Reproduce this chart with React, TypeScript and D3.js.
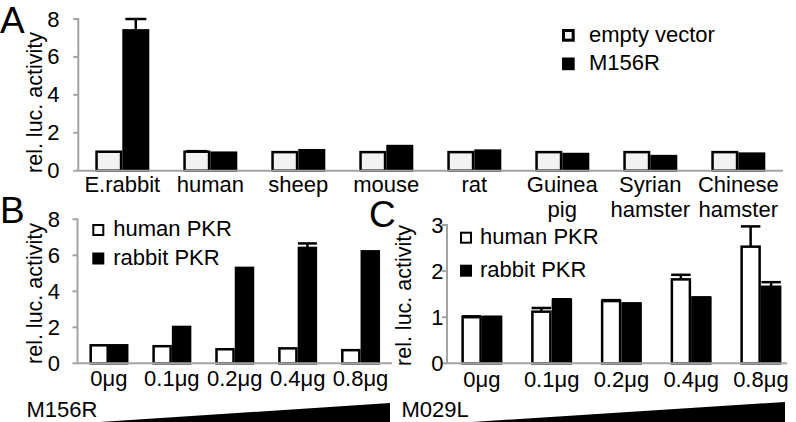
import React from "react";
import * as d3 from "d3";

// ---------- Data ----------
const speciesLabels: string[][] = [
  ["E.rabbit"], ["human"], ["sheep"], ["mouse"], ["rat"],
  ["Guinea", "pig"], ["Syrian", "hamster"], ["Chinese", "hamster"],
];
const emptyVector = [1.0, 1.0, 0.98, 0.98, 0.98, 0.98, 0.98, 0.98];
const emptyVectorErr = [0, 0.03, 0, 0, 0, 0, 0, 0];
const m156r = [7.4, 0.95, 1.08, 1.3, 1.06, 0.88, 0.77, 0.9];
const m156rErr = [0.6, 0, 0, 0, 0, 0, 0, 0];
const aTicks = [0, 2, 4, 6, 8];

const doses = ["0μg", "0.1μg", "0.2μg", "0.4μg", "0.8μg"];
const bHuman = [1.0, 0.95, 0.78, 0.83, 0.73];
const bHumanErr = [0, 0, 0, 0, 0];
const bRabbit = [1.0, 2.02, 5.3, 6.41, 6.22];
const bRabbitErr = [0, 0, 0, 0.25, 0];
const bTicks = [0, 2, 4, 6, 8];

const cHuman = [1.0, 1.12, 1.35, 1.82, 2.53];
const cHumanErr = [0.02, 0.08, 0.02, 0.1, 0.44];
const cRabbit = [1.0, 1.37, 1.29, 1.42, 1.66];
const cRabbitErr = [0.01, 0.02, 0.01, 0.01, 0.1];
const cTicks = [0, 1, 2, 3];

const legendA = ["empty vector", "M156R"];
const legendBC = ["human PKR", "rabbit PKR"];

const FONT = "'Liberation Sans', Arial, Helvetica, sans-serif";
const AXIS = "#a3a3a3";

type PanelProps = {
  labels: string[][];
  s1: number[]; e1: number[];
  s2: number[]; e2: number[];
  ticks: number[];
  x0: number; band: number; xEnd: number;
  yZero: number; yTop: number; yMax: number;
  bw: number; cap: number;
  fill1: string;
  tickRight: number;
  labelBase: number;
  titleX: number; titleY: number;
};

function Panel(p: PanelProps) {
  const n = p.labels.length;
  const x = d3.scaleBand<number>().domain(d3.range(n)).range([p.x0, p.x0 + n * p.band]).padding(0);
  const y = d3.scaleLinear().domain([0, p.yMax]).range([p.yZero, p.yTop]);
  const sw = 2.5;
  const center = (i: number) => (x(i) as number) + x.bandwidth() / 2;
  const bar = (i: number, v: number, e: number, left: boolean, fill: string) => {
    const cx = center(i);
    const bx = left ? cx - p.bw + sw / 2 : cx + sw / 2;
    const w = p.bw - sw;
    const top = y(v);
    const ex = left ? cx - p.bw / 2 : cx + p.bw / 2;
    return (
      <g key={(left ? "l" : "r") + i}>
        {e > 0 && (
          <g stroke="#000" strokeWidth={2.5}>
            <line x1={ex} x2={ex} y1={top} y2={y(v + e)} />
            <line x1={ex - p.cap / 2} x2={ex + p.cap / 2} y1={y(v + e)} y2={y(v + e)} />
          </g>
        )}
        <rect x={bx} y={top} width={w} height={p.yZero - top} fill={fill} stroke="#000" strokeWidth={sw} />
      </g>
    );
  };
  return (
    <g>
      {/* y axis */}
      <line x1={p.x0} x2={p.x0} y1={y(p.yMax) - 1} y2={p.yZero} stroke={AXIS} strokeWidth={2} />
      {p.ticks.map((t) => (
        <g key={t}>
          <line x1={p.x0 - 5} x2={p.x0} y1={y(t)} y2={y(t)} stroke={AXIS} strokeWidth={2} />
          <text x={p.tickRight} y={y(t) + 7.5} textAnchor="end" fontSize={22} fontFamily={FONT}>{t}</text>
        </g>
      ))}
      <text
        transform={`translate(${p.titleX},${p.titleY}) rotate(-90)`}
        textAnchor="middle" fontSize={21.5} fontFamily={FONT}
      >rel. luc. activity</text>
      {p.s1.map((v, i) => bar(i, v, p.e1[i], true, p.fill1))}
      {p.s2.map((v, i) => bar(i, v, p.e2[i], false, "#000"))}
      {/* x axis */}
      <line x1={p.x0 - 1} x2={p.xEnd} y1={p.yZero} y2={p.yZero} stroke={AXIS} strokeWidth={2} />
      {p.labels.map((lines, i) =>
        lines.map((s, j) => (
          <text key={i + "-" + j} x={center(i)} y={p.labelBase + j * 24.5} textAnchor="middle" fontSize={22} fontFamily={FONT}>{s}</text>
        ))
      )}
    </g>
  );
}

function Legend({ x, y, gap, textX, names, fill1, size, sw }: any) {
  return (
    <g>
      {names.map((nm: string, i: number) => (
        <g key={nm}>
          <rect
            x={x + sw / 2} y={y + i * gap + sw / 2} width={size - sw} height={size - sw}
            fill={i === 0 ? fill1 : "#000"} stroke="#000" strokeWidth={sw}
          />
          <text x={textX} y={y + i * gap + size} fontSize={22} fontFamily={FONT}>{nm}</text>
        </g>
      ))}
    </g>
  );
}

export default function App() {
  const doseLabels = doses.map((d) => [d]);
  return (
    <svg width={796} height={422} style={{ position: "absolute", left: 0, top: 0, background: "#fff" }}>
      <rect width={796} height={422} fill="#fff" />
      {/* Panel A */}
      <Panel
        labels={speciesLabels} s1={emptyVector} e1={emptyVectorErr} s2={m156r} e2={m156rErr}
        ticks={aTicks} x0={78.3} band={88} xEnd={783} yZero={170.7} yTop={19} yMax={8}
        bw={27} cap={21} fill1="#f2f2f2" tickRight={59.5} labelBase={192}
        titleX={42} titleY={102.5}
      />
      <Legend x={562} y={29} gap={28.5} textX={589} names={legendA} fill1="#f2f2f2" size={12.7} sw={3} />
      <text x={0} y={33} fontSize={37} fontFamily={FONT}>A</text>

      {/* Panel B */}
      <Panel
        labels={doseLabels} s1={bHuman} e1={bHumanErr} s2={bRabbit} e2={bRabbitErr}
        ticks={bTicks} x0={77.5} band={62.9} xEnd={392} yZero={363.3} yTop={219.3} yMax={8}
        bw={19.5} cap={19} fill1="#fff" tickRight={60} labelBase={386}
        titleX={42} titleY={293.5}
      />
      <Legend x={92.3} y={224} gap={28.5} textX={113.3} names={legendBC} fill1="#fff" size={12} sw={2} />
      <text x={0} y={223} fontSize={37} fontFamily={FONT}>B</text>
      <text x={26.5} y={416.5} fontSize={22} fontFamily={FONT}>M156R</text>
      <path d="M100,422 L390,403 L390,422 Z" fill="#000" />

      {/* Panel C */}
      <Panel
        labels={doseLabels} s1={cHuman} e1={cHumanErr} s2={cRabbit} e2={cRabbitErr}
        ticks={cTicks} x0={447} band={69.75} xEnd={787} yZero={363.3} yTop={225} yMax={3}
        bw={20.5} cap={19.5} fill1="#fff" tickRight={443.5} labelBase={386.5}
        titleX={411} titleY={295.5}
      />
      <Legend x={460} y={231.7} gap={33} textX={480} names={legendBC} fill1="#fff" size={12} sw={2} />
      <text x={369} y={227} fontSize={37} fontFamily={FONT}>C</text>
      <text x={401.5} y={416.5} fontSize={22} fontFamily={FONT}>M029L</text>
      <path d="M472,422 L785,402 L785,422 Z" fill="#000" />
    </svg>
  );
}
